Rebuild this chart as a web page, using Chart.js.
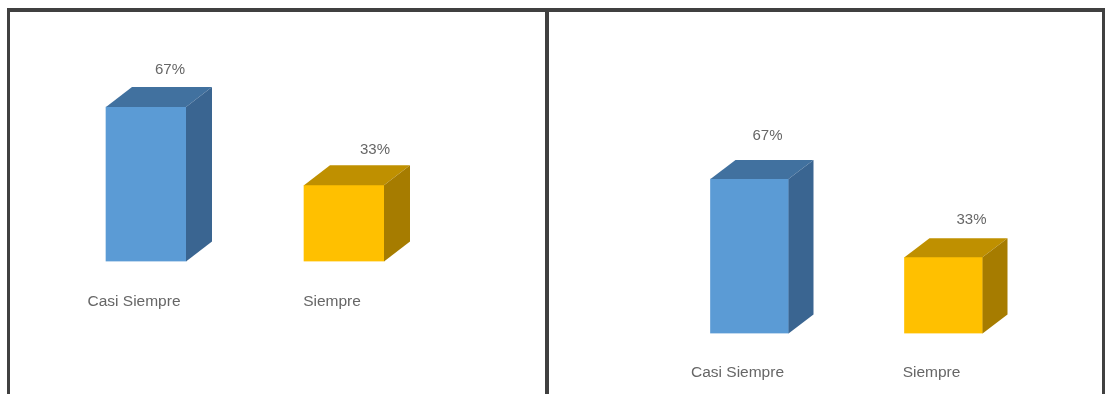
<!DOCTYPE html>
<html>
<head>
<meta charset="utf-8">
<script src="https://cdn.jsdelivr.net/npm/chart.js@4/dist/chart.umd.min.js"></script>
<style>
  html, body { margin: 0; background: #fff; overflow: hidden; }
  body { width: 1106px; height: 394px; position: relative; }
  .rule { position: absolute; background: #404040; }
  .panel { position: absolute; top: 12px; height: 410px; }
</style>
</head>
<body>
<div class="panel" style="left:10px;width:536px"><canvas id="chart-left"></canvas></div>
<div class="panel" style="left:549px;width:553px"><canvas id="chart-right"></canvas></div>
<div class="rule" style="left:7px;top:8px;width:1098px;height:4px"></div>
<div class="rule" style="left:7px;top:8px;width:3px;height:386px"></div>
<div class="rule" style="left:545px;top:8px;width:4px;height:386px"></div>
<div class="rule" style="left:1102px;top:8px;width:3px;height:386px"></div>
<script>
const categories = ['Casi Siempre', 'Siempre'];
const percentValues = [67, 33];
const frontColors = ['#5B9BD5', '#FFC000'];
const topColors = ['#41719F', '#BF9000'];
const sideColors = ['#3A6591', '#A67C00'];

// extrudes each bar into a box and writes its percentage above it
const boxBars = {
  id: 'boxBars',
  afterDatasetsDraw(chart, args, opts) {
    const ctx = chart.ctx;
    chart.getDatasetMeta(0).data.forEach((bar, i) => {
      const half = bar.width / 2;
      const l = bar.x - half, r = bar.x + half, t = bar.y, b = bar.base;
      const dx = opts.depthX, dy = opts.depthY;

      ctx.fillStyle = topColors[i];
      ctx.beginPath();
      ctx.moveTo(l, t);
      ctx.lineTo(l + dx, t - dy);
      ctx.lineTo(r + dx, t - dy);
      ctx.lineTo(r, t);
      ctx.closePath();
      ctx.fill();

      ctx.fillStyle = sideColors[i];
      ctx.beginPath();
      ctx.moveTo(r, t);
      ctx.lineTo(r + dx, t - dy);
      ctx.lineTo(r + dx, b - dy);
      ctx.lineTo(r, b);
      ctx.closePath();
      ctx.fill();

      ctx.fillStyle = '#666666';
      ctx.font = '15px "Liberation Sans"';
      ctx.textAlign = 'center';
      ctx.textBaseline = 'middle';
      ctx.fillText(percentValues[i] + '%', bar.x + opts.labelX[i], t + opts.labelY[i]);
    });
  }
};

function makeChart(id, cfg) {
  return new Chart(document.getElementById(id), {
    type: 'bar',
    data: {
      labels: categories,
      datasets: [{
        data: percentValues,
        backgroundColor: frontColors,
        barThickness: cfg.barWidth
      }]
    },
    options: {
      responsive: true,
      maintainAspectRatio: false,
      animation: false,
      layout: { padding: cfg.padding },
      plugins: {
        legend: { display: false },
        tooltip: { enabled: false },
        boxBars: { depthX: cfg.depthX, depthY: cfg.depthY, labelX: cfg.labelX, labelY: cfg.labelY }
      },
      scales: {
        x: {
          grid: { display: false },
          border: { display: false },
          ticks: {
            color: '#666666',
            font: { family: 'Liberation Sans', size: 15.5 },
            padding: cfg.tickPadding,
            labelOffset: -12,
            maxRotation: 0
          }
        },
        y: { display: false, min: 0, max: 80 }
      }
    },
    plugins: [boxBars]
  });
}

makeChart('chart-left', {
  barWidth: 80, depthX: 26, depthY: 20, tickPadding: 23,
  padding: { left: 37, right: 103, top: 65, bottom: 88 },
  labelX: [24, 31], labelY: [-37, -35]
});

makeChart('chart-right', {
  barWidth: 78, depthX: 25, depthY: 19, tickPadding: 22,
  padding: { left: 103.5, right: 61.5, top: 137, bottom: 18 },
  labelX: [18, 28], labelY: [-43, -37]
});
</script>
</body>
</html>
